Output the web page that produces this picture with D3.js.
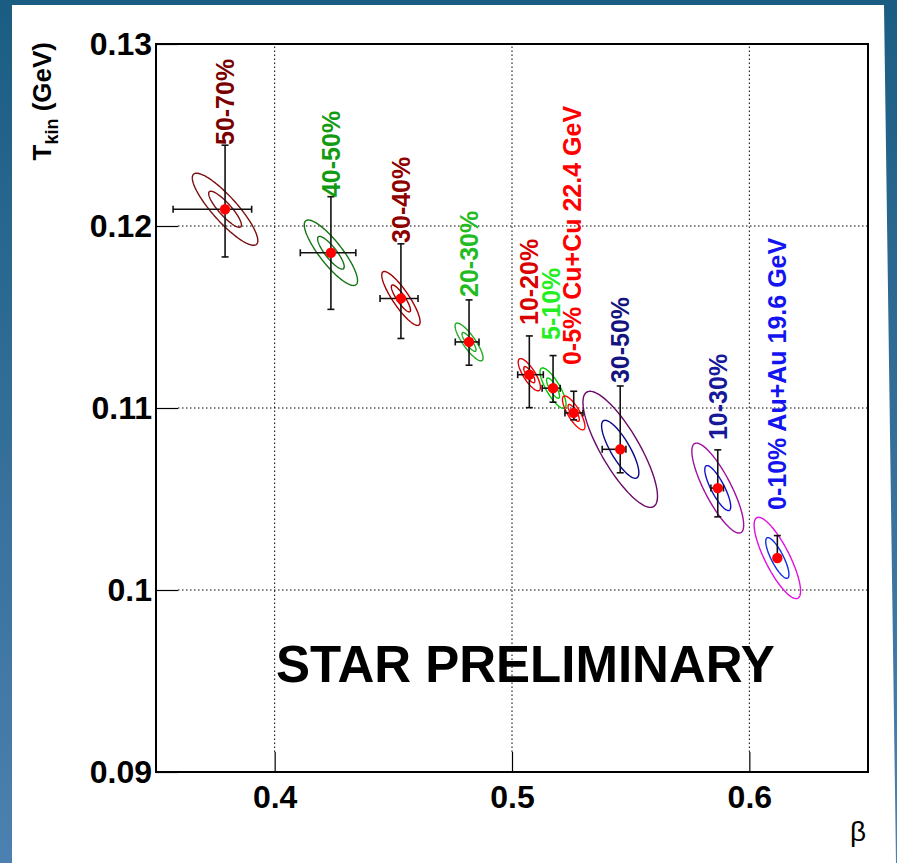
<!DOCTYPE html>
<html>
<head>
<meta charset="utf-8">
<script src="https://cdn.jsdelivr.net/npm/d3@7"></script>
<style>
  body { margin: 0; background: #2b6b92; }
  svg { display: block; }
  text { font-family: "Liberation Sans", Arial, Helvetica, sans-serif; }
</style>
</head>
<body>
<svg id="chart" width="897" height="863"></svg>
<script>
// centrality labels, Cu+Cu 22.4 GeV first then Au+Au 19.6 GeV
const labelTexts = ["50-70%", "40-50%", "30-40%", "20-30%", "10-20%", "5-10%",
  "0-5% Cu+Cu 22.4 GeV", "30-50%", "10-30%", "0-10% Au+Au 19.6 GeV"];
const betaValues = [0.3791, 0.4237, 0.4532, 0.4819, 0.5073, 0.5173, 0.5260, 0.5456, 0.5867, 0.6118];
const tkinValues = [0.12092, 0.11853, 0.11602, 0.11363, 0.11183, 0.11109, 0.10973, 0.10773, 0.10560, 0.10176];
const betaErrLow = [0.0219, 0.0129, 0.0088, 0.0058, 0.0049, 0.0046, 0.0037, 0.0076, 0.0029, 0.0008];
const betaErrHigh = [0.0112, 0.0105, 0.0072, 0.0042, 0.0059, 0.0030, 0.0039, 0.0024, 0.0024, 0.0008];
const tkinErrLow = [0.00262, 0.00311, 0.0022, 0.00128, 0.00181, 0.00077, 0.00038, 0.00129, 0.00158, 0.0];
const tkinErrHigh = [0.00352, 0.00308, 0.0030, 0.00231, 0.00213, 0.00179, 0.00119, 0.00348, 0.00210, 0.00123];
// 1 sigma contour: sigma beta, sigma T, correlation
const sigmaBeta = [0.00690, 0.00561, 0.00404, 0.00295, 0.00234, 0.00274, 0.00237, 0.00785, 0.00546, 0.00489];
const sigmaT = [0.000990, 0.000900, 0.000740, 0.000519, 0.000442, 0.000556, 0.000465, 0.001594, 0.001236, 0.001118];
const rho = [-0.87, -0.85, -0.865, -0.845, -0.785, -0.80, -0.795, -0.81, -0.82, -0.81];
const contourLevels = [2, 1];
// label anchor (bottom end of rotated text)
const labelBeta = [0.3791, 0.4237, 0.4532, 0.4819, 0.5073, 0.5164, 0.5252, 0.5456, 0.5867, 0.6118];
const labelT = [0.12445, 0.12159, 0.11907, 0.11610, 0.11456, 0.11374, 0.11236, 0.11137, 0.10824, 0.10440];

const labelColors = ["#7a0000", "#139a13", "#8e0000", "#22bb22", "#d80000", "#22ee22",
  "#ff0000", "#14147f", "#18189a", "#1414f0"];
const innerColors = ["#7a1010", "#157515", "#a00000", "#22aa22", "#e00000", "#00c800",
  "#ff0000", "#0a0a8a", "#1010c8", "#1030e8"];
const outerColors = ["#7a1010", "#157515", "#a00000", "#22aa22", "#e00000", "#00c800",
  "#ff0000", "#6a0a6a", "#a010a0", "#e010e0"];

const xTicks = [0.4, 0.5, 0.6];
const xTickLabels = ["0.4", "0.5", "0.6"];
const yTicks = [0.09, 0.1, 0.11, 0.12, 0.13];
const yTickLabels = ["0.09", "0.1", "0.11", "0.12", "0.13"];

const svg = d3.select("#chart");

// slide background
const defs = svg.append("defs");
const grad = defs.append("linearGradient").attr("id", "bg").attr("x1", 0).attr("y1", 0).attr("x2", 0).attr("y2", 1);
grad.append("stop").attr("offset", "0%").attr("stop-color", "#1b5d82");
grad.append("stop").attr("offset", "100%").attr("stop-color", "#4c80b0");
svg.append("rect").attr("width", 897).attr("height", 863).attr("fill", "url(#bg)");
svg.append("polygon").attr("points", "12,5 884,5 896,863 12,863").attr("fill", "#fff");

let margin = { top: 44, right: 29, bottom: 91, left: 156 },
  width = 897 - margin.left - margin.right,
  height = 863 - margin.top - margin.bottom;

let x = d3.scaleLinear().domain([0.35, 0.65]).range([0, width]);
let y = d3.scaleLinear().domain([0.09, 0.13]).range([height, 0]);

let g = svg.append("g").attr("transform", "translate(" + margin.left + "," + margin.top + ")");

// dotted grid
g.selectAll(".gridx")
  .data(xTicks)
  .enter()
  .append("line")
  .attr("x1", (d) => x(d))
  .attr("x2", (d) => x(d))
  .attr("y1", height - 20)
  .attr("y2", 0)
  .attr("stroke", "#000")
  .attr("stroke-width", 1)
  .attr("stroke-dasharray", "1.5,2.5");
g.selectAll(".gridy")
  .data(yTicks.slice(1, -1))
  .enter()
  .append("line")
  .attr("x1", 22)
  .attr("x2", width)
  .attr("y1", (d) => y(d))
  .attr("y2", (d) => y(d))
  .attr("stroke", "#000")
  .attr("stroke-width", 1)
  .attr("stroke-dasharray", "1.5,2.5");

// axes
let xAxis = g.append("g")
  .attr("transform", "translate(0," + height + ")")
  .call(d3.axisBottom(x).tickValues(xTicks).tickFormat((d, i) => xTickLabels[i]).tickSize(-20).tickPadding(13));
let yAxis = g.append("g")
  .call(d3.axisLeft(y).tickValues(yTicks).tickFormat((d, i) => yTickLabels[i]).tickSize(-22).tickPadding(4));
[xAxis, yAxis].forEach((a) => {
  a.select(".domain").remove();
  a.selectAll("line").attr("stroke", "#000").attr("stroke-width", 1.2);
  a.selectAll("text").attr("fill", "#000").style("font-size", "32px").style("font-weight", "bold")
    .style("font-family", "'Liberation Sans', Arial, sans-serif");
});

g.append("rect")
  .attr("width", width)
  .attr("height", height)
  .attr("fill", "none")
  .attr("stroke", "#000")
  .attr("stroke-width", 2);

// axis titles
svg.append("text")
  .attr("x", 866)
  .attr("y", 841)
  .attr("text-anchor", "end")
  .style("font-size", "28px")
  .text("β");

let ytitle = svg.append("text")
  .attr("transform", "translate(51,42) rotate(-90)")
  .attr("text-anchor", "end")
  .style("font-size", "26px")
  .style("font-weight", "bold");
ytitle.append("tspan").text("T");
ytitle.append("tspan").attr("dy", 7).style("font-size", "18px").text("kin");
ytitle.append("tspan").attr("dy", -7).text(" (GeV)");

const points = betaValues.map((b, i) => ({
  beta: b, tkin: tkinValues[i],
  bLo: betaErrLow[i], bHi: betaErrHigh[i], tLo: tkinErrLow[i], tHi: tkinErrHigh[i],
  sb: sigmaBeta[i], st: sigmaT[i], r: rho[i],
  inner: innerColors[i], outer: outerColors[i],
}));

// covariance contours
const ellipseLine = d3.line().x((p) => x(p[0])).y((p) => y(p[1])).curve(d3.curveLinearClosed);
function contour(d, k) {
  return d3.range(0, 2 * Math.PI, Math.PI / 60).map((t) => [
    d.beta + k * d.sb * Math.cos(t),
    d.tkin + k * d.st * (d.r * Math.cos(t) + Math.sqrt(1 - d.r * d.r) * Math.sin(t)),
  ]);
}
contourLevels.forEach((k) => {
  g.selectAll(".ell" + k)
    .data(points)
    .enter()
    .append("path")
    .attr("d", (d) => ellipseLine(contour(d, k)))
    .attr("fill", "none")
    .attr("stroke", (d) => (k > 1 ? d.outer : d.inner))
    .attr("stroke-width", 1.4);
});

// error bars
let eb = g.selectAll(".err").data(points).enter().append("g").attr("stroke", "#111").attr("stroke-width", 1.6);
eb.append("line").attr("x1", (d) => x(d.beta - d.bLo)).attr("x2", (d) => x(d.beta + d.bHi))
  .attr("y1", (d) => y(d.tkin)).attr("y2", (d) => y(d.tkin));
eb.append("line").attr("x1", (d) => x(d.beta)).attr("x2", (d) => x(d.beta))
  .attr("y1", (d) => y(d.tkin - d.tLo)).attr("y2", (d) => y(d.tkin + d.tHi));
const cap = 3.5;
eb.filter((d) => d.bLo > 0.001).append("line")
  .attr("x1", (d) => x(d.beta - d.bLo)).attr("x2", (d) => x(d.beta - d.bLo))
  .attr("y1", (d) => y(d.tkin) - cap).attr("y2", (d) => y(d.tkin) + cap);
eb.filter((d) => d.bHi > 0.001).append("line")
  .attr("x1", (d) => x(d.beta + d.bHi)).attr("x2", (d) => x(d.beta + d.bHi))
  .attr("y1", (d) => y(d.tkin) - cap).attr("y2", (d) => y(d.tkin) + cap);
eb.filter((d) => d.tLo > 0.0002).append("line")
  .attr("x1", (d) => x(d.beta) - cap).attr("x2", (d) => x(d.beta) + cap)
  .attr("y1", (d) => y(d.tkin - d.tLo)).attr("y2", (d) => y(d.tkin - d.tLo));
eb.filter((d) => d.tHi > 0.0002).append("line")
  .attr("x1", (d) => x(d.beta) - cap).attr("x2", (d) => x(d.beta) + cap)
  .attr("y1", (d) => y(d.tkin + d.tHi)).attr("y2", (d) => y(d.tkin + d.tHi));

// points
g.selectAll(".dot")
  .data(points)
  .enter()
  .append("circle")
  .attr("cx", (d) => x(d.beta))
  .attr("cy", (d) => y(d.tkin))
  .attr("r", 5.2)
  .attr("fill", "#ff0000");

// labels
g.selectAll(".lbl")
  .data(labelTexts)
  .enter()
  .append("text")
  .attr("transform", (d, i) => "translate(" + x(labelBeta[i]) + "," + y(labelT[i]) + ") rotate(-90)")
  .attr("dy", "0.36em")
  .attr("fill", (d, i) => labelColors[i])
  .style("font-size", "25px")
  .style("font-weight", "bold")
  .text((d) => d);

svg.append("text")
  .attr("x", 276)
  .attr("y", 682)
  .style("font-size", "51px")
  .style("font-weight", "bold")
  .text("STAR PRELIMINARY");
</script>
</body>
</html>
